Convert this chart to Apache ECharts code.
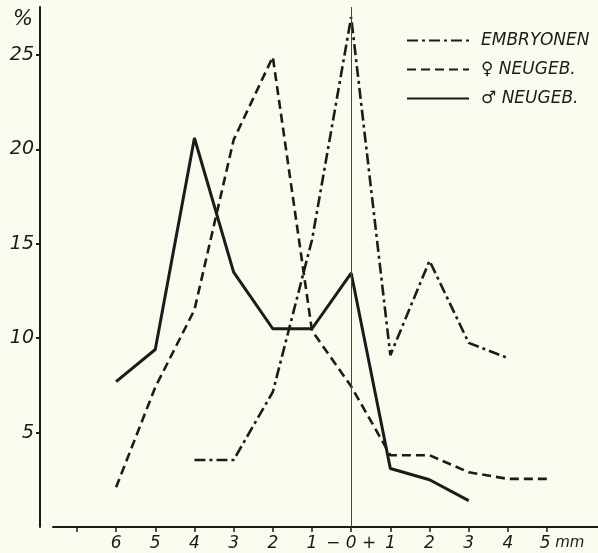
<!DOCTYPE html>
<html>
<head>
<meta charset="utf-8">
<script src="https://cdn.jsdelivr.net/npm/echarts@6/dist/echarts.min.js"></script>
<style>
html,body{margin:0;padding:0;background:#fbfaef;}
#chart{width:598px;height:553px;}
</style>
</head>
<body>
<div id="chart"></div>
<script>
// Distance classes (mm): negative = left of 0 ("−"), positive = right ("+")
var xTickValues = [-7, -6, -5, -4, -3, -2, -1, 0, 1, 2, 3, 4, 5];
var xLabelValues = [-6, -5, -4, -3, -2, -1, 0, 1, 2, 3, 4, 5];
var xLabelTexts = ['6', '5', '4', '3', '2', '1', '0', '1', '2', '3', '4', '5'];
var yTickValues = [5, 10, 15, 20, 25];

var names = ['EMBRYONEN', '\u2640 NEUGEB.', '\u2642 NEUGEB.'];

var embryoX = [-4, -3, -2, -1, 0, 1, 2, 3, 4];
var embryoY = [3.55, 3.55, 7.15, 15.2, 27.0, 9.1, 14.1, 9.75, 8.95];

var femaleX = [-6, -5, -4, -3, -2, -1, 0, 1, 2, 3, 4, 5];
var femaleY = [2.1, 7.4, 11.5, 20.5, 24.9, 10.4, 7.45, 3.8, 3.8, 2.9, 2.55, 2.55];

var maleX = [-6, -5, -4, -3, -2, -1, 0, 1, 2, 3];
var maleY = [7.7, 9.4, 20.6, 13.5, 10.5, 10.5, 13.45, 3.1, 2.5, 1.4];

function pairs(xs, ys) { return xs.map(function (x, i) { return [x, ys[i]]; }); }

var ink = '#1b1b1b';
var font = 'DejaVu Sans';

var chart = echarts.init(document.getElementById('chart'));
chart.setOption({
  backgroundColor: '#fbfaef',
  animation: false,
  grid: { left: 53, right: 0, top: 7, bottom: 26 },
  legend: {
    orient: 'vertical',
    left: 401,
    top: 27,
    itemWidth: 62,
    itemHeight: 14,
    itemGap: 12,
    align: 'left',
    data: names,
    itemStyle: { opacity: 0 },
    textStyle: { fontFamily: font, fontStyle: 'italic', fontSize: 17, color: ink, padding: [0, 0, 0, 7] }
  },
  xAxis: {
    type: 'value',
    min: -7.61,
    max: 6.3,
    splitLine: { show: false },
    axisLine: { show: true, onZero: false, lineStyle: { color: ink, width: 2 } },
    axisTick: { show: true, customValues: xTickValues, length: 5, lineStyle: { color: ink, width: 1.5 } },
    axisLabel: {
      customValues: xLabelValues,
      margin: 8,
      fontFamily: font, fontStyle: 'italic', fontSize: 17, color: ink,
      formatter: function (v) {
        var idx = xLabelValues.indexOf(Math.round(v));
        var t = idx >= 0 ? xLabelTexts[idx] : '';
        if (Math.round(v) === 0) return '\u2212 ' + t + ' +';
        if (Math.round(v) === 5) return '{p|' + t + '}{u| mm}';
        return t;
      },
      rich: {
        p: { fontFamily: font, fontStyle: 'italic', fontSize: 17, color: ink, padding: [0, 0, 0, 30] },
        u: { fontFamily: font, fontStyle: 'italic', fontSize: 15, color: ink }
      }
    }
  },
  yAxis: {
    type: 'value',
    min: 0,
    max: 27.54,
    offset: 13,
    name: '%',
    nameLocation: 'end',
    nameGap: -23,
    nameTextStyle: { fontFamily: font, fontStyle: 'italic', fontSize: 21, color: ink, align: 'right', padding: [0, 7, 0, 0] },
    splitLine: { show: false },
    axisLine: { show: true, onZero: false, lineStyle: { color: ink, width: 2 } },
    axisTick: { show: true, customValues: yTickValues, length: 4, lineStyle: { color: ink, width: 2 } },
    axisLabel: {
      customValues: yTickValues,
      margin: 6,
      fontFamily: font, fontStyle: 'italic', fontSize: 19, color: ink
    }
  },
  series: [
    {
      name: names[0], type: 'line', symbol: 'none',
      data: pairs(embryoX, embryoY),
      lineStyle: { color: ink, width: 2.6, type: [11, 4, 3, 4], cap: 'butt' },
      itemStyle: { color: ink },
      markLine: {
        silent: true, symbol: 'none', label: { show: false },
        lineStyle: { color: '#444', width: 1, type: 'solid' },
        data: [{ xAxis: 0 }]
      }
    },
    {
      name: names[1], type: 'line', symbol: 'none',
      data: pairs(femaleX, femaleY),
      lineStyle: { color: ink, width: 2.6, type: [9, 5], cap: 'butt' },
      itemStyle: { color: ink }
    },
    {
      name: names[2], type: 'line', symbol: 'none',
      data: pairs(maleX, maleY),
      lineStyle: { color: ink, width: 3, type: 'solid' },
      itemStyle: { color: ink }
    }
  ]
});
</script>
</body>
</html>
